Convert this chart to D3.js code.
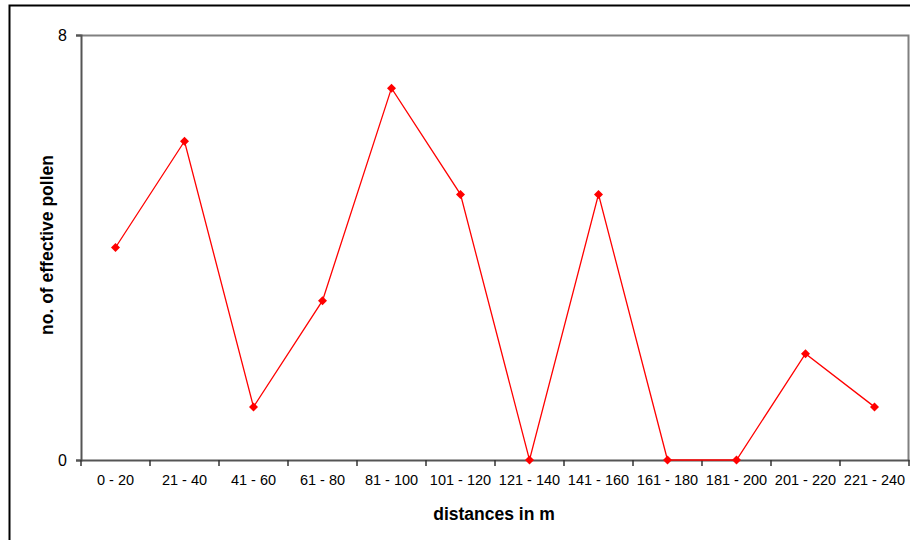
<!DOCTYPE html>
<meta charset="utf-8">
<style>
body { margin: 0; background: #fff; }
text { font-family: "Liberation Sans", Arial, sans-serif; }
.tick text { font-size: 14.5px; fill: #000; }
.title { font-size: 17.5px; font-weight: bold; }
</style>
<svg width="910" height="540"></svg>
<script src="https://cdn.jsdelivr.net/npm/d3@7"></script>
<script>

var categories = ["0 - 20", "21 - 40", "41 - 60", "61 - 80", "81 - 100", "101 - 120",
    "121 - 140", "141 - 160", "161 - 180", "181 - 200", "201 - 220", "221 - 240"];
var pollen = [4, 6, 1, 3, 7, 5, 0, 5, 0, 0, 2, 1];
var yTicks = [0, 8];

var svg = d3.select("svg"),
    margin = {top: 35, right: 1, bottom: 80, left: 81},
    width = 909 - margin.left,
    height = 460 - margin.top;

// outer chart frame
svg.append("rect")
    .attr("x", 9.5).attr("y", 5.5)
    .attr("width", 920).attr("height", 560)
    .attr("fill", "none").attr("stroke", "#000").attr("stroke-width", 2);

var g = svg.append("g").attr("transform", "translate(" + margin.left + "," + margin.top + ")");

var x = d3.scaleBand().domain(categories).range([0, width]);
var y = d3.scaleLinear().domain([0, 8]).range([height, 0]);

// plot area frame (top and right)
g.append("path")
    .attr("d", "M0,0.5H" + (width - 0.5) + "V" + height)
    .attr("fill", "none").attr("stroke", "#808080").attr("stroke-width", 2);

var yAxis = g.append("g")
    .call(d3.axisLeft(y).tickValues(yTicks).tickSize(5).tickPadding(9).tickFormat(d3.format("d")));
yAxis.select(".domain").attr("stroke", "#555").attr("stroke-width", 2);
yAxis.selectAll(".tick line").attr("stroke", "#555").attr("stroke-width", 2);
yAxis.selectAll(".tick text").style("font-size", "16px");

var xAxis = g.append("g")
    .attr("transform", "translate(0," + height + ")")
    .call(d3.axisBottom(x).tickSize(0).tickPadding(15));
xAxis.select(".domain").attr("stroke", "#555").attr("stroke-width", 2);
xAxis.selectAll(".tick line").remove();

// ticks between categories
var bounds = categories.map(function(d) { return x(d); }).concat([width]);
xAxis.selectAll(".sep")
    .data(bounds)
  .enter().append("line")
    .attr("x1", function(d) { return d; })
    .attr("x2", function(d) { return d; })
    .attr("y1", 0).attr("y2", 6)
    .attr("stroke", "#333").attr("stroke-width", 1.5);

var pts = categories.map(function(c, i) { return [x(c) + x.bandwidth() / 2, y(pollen[i])]; });

g.append("path")
    .datum(pts)
    .attr("fill", "none")
    .attr("stroke", "#ff0000")
    .attr("stroke-width", 1.3)
    .attr("d", d3.line());

g.selectAll(".pt")
    .data(pts)
  .enter().append("path")
    .attr("class", "pt")
    .attr("transform", function(d) { return "translate(" + d[0] + "," + d[1] + ")"; })
    .attr("d", "M0,-4.5L4.5,0L0,4.5L-4.5,0Z")
    .attr("fill", "#ff0000");

svg.append("text")
    .attr("class", "title")
    .attr("x", 494).attr("y", 520)
    .attr("text-anchor", "middle")
    .text("distances in m");

svg.append("text")
    .attr("class", "title")
    .attr("transform", "translate(53,245) rotate(-90)")
    .attr("text-anchor", "middle")
    .text("no. of effective pollen");

</script>
